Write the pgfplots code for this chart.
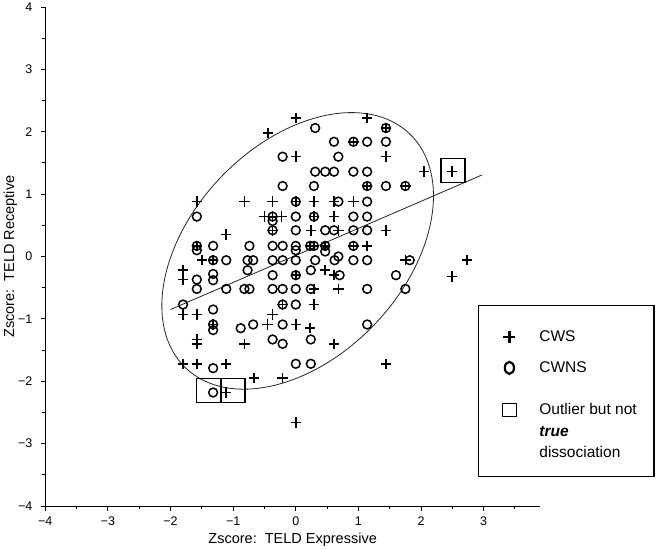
\documentclass[border=0pt]{standalone}
\usepackage{fontspec}
\setmainfont{Liberation Sans}
\usepackage{pgfplots}
\pgfplotsset{compat=1.18}

\begin{document}
\begin{tikzpicture}
\path[use as bounding box] (-45.3bp,-44bp) rectangle (618.7bp,506bp);
\begin{axis}[
  scale only axis, width=494.7bp, height=499bp,
  xmin=-4, xmax=3.9, ymin=-4, ymax=4,
  axis x line*=bottom, axis y line*=left,
  axis line style={line width=1bp},
  clip=false,
  xtick={-4,-3,-2,-1,0,1,2,3},
  xticklabels={−4,−3,−2,−1,0,1,2,3},
  minor xtick={-3.5,-2.5,-1.5,-0.5,0.5,1.5,2.5,3.5},
  ytick={-4,-3,-2,-1,0,1,2,3,4},
  yticklabels={−4,−3,−2,−1,0,1,2,3,4},
  minor ytick={-3.5,-2.5,-1.5,-0.5,0.5,1.5,2.5,3.5},
  tick align=outside,
  major tick length=4.5bp, minor tick length=3bp,
  tick style={black, line width=0.9bp},
  ticklabel style={font=\fontsize{12.5bp}{14bp}\selectfont},
  xticklabel style={yshift=-3bp},
  yticklabel style={xshift=-5bp},
  xlabel={Zscore:\ \ TELD Expressive},
  ylabel={Zscore:\ \ TELD Receptive},
  label style={font=\fontsize{14.5bp}{16bp}\selectfont},
  xlabel style={at={(axis description cs:0.5,0)}, anchor=center, yshift=-34bp},
  ylabel style={at={(axis description cs:0,0.5)}, anchor=center, yshift=35bp},
  legend cell align=left,
  legend style={at={(axis cs:3.22,-1.16)}, anchor=north west, draw=none,
    fill=none, inner sep=0pt, outer sep=0pt,
    font=\fontsize{15.5bp}{21.5bp}\selectfont,
    nodes={inner sep=0pt}, cells={align=left},
    row sep=15bp, column sep=18bp},
]
% CWS
\addplot[only marks, mark=+, mark size=5.2bp, mark options={line width=1.6bp, black},
  legend image code/.code={\path[draw=none, fill=none] (0,-8bp) rectangle (24bp,8bp);
    \draw[black, line width=2.2bp] (6bp,0) -- (18bp,0) (12bp,-6bp) -- (12bp,6bp);}]
coordinates {
(0.00,2.22) (1.14,2.22) (-0.44,1.98) (1.44,2.06) (0.92,1.84) (0.00,1.60)
(1.44,1.60) (2.05,1.36) (2.49,1.36) (1.14,1.13) (1.75,1.13)
(-1.58,0.88) (-0.82,0.88) (-0.37,0.88) (0.00,0.88) (0.29,0.88) (0.61,0.88) (0.92,0.88)
(-0.50,0.64) (-0.37,0.64) (-0.23,0.64) (0.29,0.64) (0.61,0.64)
(-1.11,0.35) (-0.37,0.42) (0.24,0.42) (0.68,0.42) (1.44,0.42)
(-1.58,0.17) (0.23,0.17) (0.29,0.17) (0.47,0.17) (0.92,0.17) (1.14,0.17)
(-1.50,-0.06) (-1.32,-0.06) (0.47,-0.22) (1.75,-0.06) (2.73,-0.06)
(-1.80,-0.22) (-1.80,-0.37) (0.00,-0.30) (0.61,-0.30) (2.49,-0.32)
(0.29,-0.52) (0.68,-0.52) (-0.21,-0.77) (0.29,-0.77)
(-1.80,-0.93) (-1.58,-0.93) (-0.37,-0.93)
(-1.32,-1.09) (-0.45,-1.09) (0.00,-1.09) (0.23,-1.15)
(-1.58,-1.33) (-1.58,-1.40) (-0.82,-1.40) (0.61,-1.40)
(-1.80,-1.72) (-1.58,-1.72) (-1.11,-1.72) (1.44,-1.72)
(-0.67,-1.95) (-0.21,-1.95) (-1.11,-2.18) (0.00,-2.66)
};
\addlegendentry{CWS}
% CWNS
\addplot[only marks, mark=o, mark size=4.4bp, mark options={line width=1.5bp, black},
  legend image code/.code={\path[draw=none, fill=none] (0,-8bp) rectangle (24bp,8bp);
    \draw[black, line width=2.2bp] (12bp,0) ellipse [x radius=4.6bp, y radius=6bp];}]
coordinates {
(0.31,2.06) (1.44,2.06) (0.61,1.84) (0.92,1.84) (1.14,1.84) (1.44,1.84)
(-0.21,1.60) (0.68,1.60)
(0.31,1.36) (0.47,1.36) (0.61,1.36) (0.92,1.36) (1.14,1.36)
(-0.21,1.13) (0.29,1.13) (1.14,1.13) (1.44,1.13) (1.75,1.13)
(0.00,0.88) (0.68,0.88) (1.14,0.88)
(-1.58,0.64) (-0.37,0.64) (-0.37,0.57) (0.00,0.64) (0.29,0.64) (0.92,0.64) (1.14,0.64)
(-0.37,0.42) (0.00,0.42) (0.47,0.42) (0.61,0.42) (0.92,0.42) (1.14,0.42)
(-1.58,0.17) (-1.58,0.10) (-1.32,0.17) (-0.74,0.17) (-0.37,0.17) (-0.21,0.17)
(0.00,0.17) (0.00,0.10) (0.23,0.17) (0.29,0.17) (0.47,0.17) (0.47,0.08) (0.92,0.17)
(-1.32,-0.06) (-1.11,-0.06) (-0.77,-0.06) (-0.68,-0.06) (-0.37,-0.06) (-0.21,-0.06)
(0.00,-0.06) (0.31,-0.06) (0.62,-0.06) (0.68,0.00) (0.92,-0.06) (1.14,-0.06) (1.82,-0.06)
(-1.58,-0.37) (-1.32,-0.28) (-1.32,-0.38) (-0.77,-0.22) (-0.37,-0.30) (0.00,-0.30)
(0.24,-0.22) (0.70,-0.30) (1.60,-0.30)
(-1.58,-0.52) (-1.11,-0.52) (-0.82,-0.52) (-0.74,-0.52) (-0.37,-0.52) (-0.21,-0.52)
(0.00,-0.52) (0.24,-0.52) (1.14,-0.52) (1.75,-0.52)
(-1.80,-0.77) (-1.32,-0.85) (-0.21,-0.77) (0.00,-0.77)
(-1.32,-1.09) (-1.32,-1.18) (-0.88,-1.15) (-0.68,-1.09) (-0.21,-1.09) (1.14,-1.09)
(-0.37,-1.33) (-0.21,-1.40) (0.24,-1.33)
(-1.32,-1.79) (0.00,-1.72) (0.24,-1.72)
(-1.32,-2.18)
};
\addlegendentry{CWNS}
% outliers but not true dissociation
\addplot[only marks, mark=square, mark size=12bp, mark options={line width=1.4bp, black},
  legend image code/.code={\path[draw=none, fill=none] (0,-27bp) rectangle (24bp,40.5bp);
    \draw[black, line width=1.6bp] (5bp,15bp) rectangle (19bp,28bp);}]
coordinates {(2.51,1.38) (-1.39,-2.15) (-1.00,-2.15)};
\addlegendentry{Outlier but not\\\textbf{\textit{true}}\\dissociation}

% regression line and ellipse
\draw[line width=0.8bp, black!85] (axis cs:-2.0,-0.85) -- (axis cs:2.98,1.31);
\draw[line width=0.8bp, black!85, rotate around={46.3:(axis cs:0.03,0.09)}]
  (axis cs:0.03,0.09) ellipse [x radius=162bp, y radius=106.4bp];
% legend frame
\draw[line width=1.2bp] (axis cs:2.92,-0.79) rectangle (axis cs:5.72,-3.53);
\end{axis}
\end{tikzpicture}
\end{document}
